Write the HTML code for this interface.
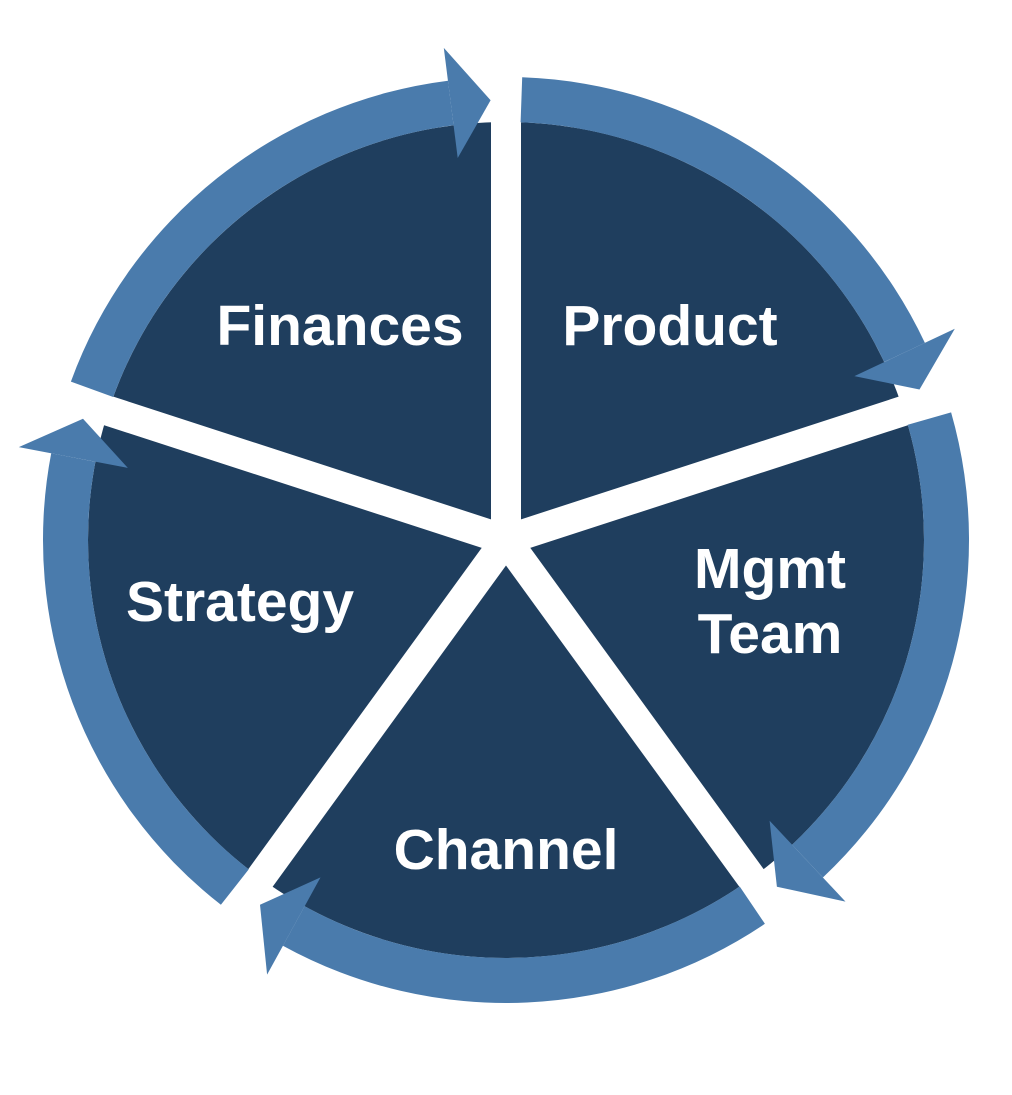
<!DOCTYPE html>
<html><head><meta charset="utf-8"><style>
html,body{margin:0;padding:0;background:#fff;}
svg{display:block;}
text{font-family:"Liberation Sans",sans-serif;font-weight:bold;fill:#fff;font-size:57px;text-anchor:middle;}
</style></head><body>
<svg id="s" width="1012" height="1095" viewBox="0 0 1012 1095" xmlns="http://www.w3.org/2000/svg">
<circle cx="506" cy="540" r="418" fill="#1f3e5e"/>
<g id="lines" stroke="#fff" stroke-width="30"></g>
<g id="ring" fill="#4a7bac"></g>
<text x="340" y="345">Finances</text>
<text x="670" y="345">Product</text>
<text x="770" y="588">Mgmt</text>
<text x="770" y="653">Team</text>
<text x="240" y="621">Strategy</text>
<text x="506" y="869">Channel</text>
</svg>
<script>
var cx=506,cy=540,Ro=463,Ri=418,Ht=496,Hb=385,Rm=440;
function P(r,a){a=a*Math.PI/180;return [(cx+r*Math.cos(a)).toFixed(1),(cy+r*Math.sin(a)).toFixed(1)];}
var seps=[-90,-18,54,126,198];
var L='',R='';
seps.forEach(function(s){var a=P(0,s),b=P(480,s);L+='<line x1="'+a[0]+'" y1="'+a[1]+'" x2="'+b[0]+'" y2="'+b[1]+'"/>';});
for(var i=0;i<5;i++){
 var s=seps[(i+4)%5], e=seps[i];
 if(i==0) s=198-360;
 var a0=s+2.0, a1=e-2.0, ah=a1-5.2;
 var p1=P(Ro,a0),p2=P(Ro,ah),p3=P(Ri,ah),p4=P(Ri,a0);
 R+='<path d="M'+p1+' A'+Ro+' '+Ro+' 0 0 1 '+p2+' L'+p3+' A'+Ri+' '+Ri+' 0 0 0 '+p4+'Z"/>';
 var h1=P(Ht,ah),h2=P(Hb,ah),t=P(Rm,a1);
 R+='<polygon points="'+h1+' '+t+' '+h2+'"/>';
}
document.getElementById('lines').innerHTML=L;
document.getElementById('ring').innerHTML=R;
</script>
</body></html>
